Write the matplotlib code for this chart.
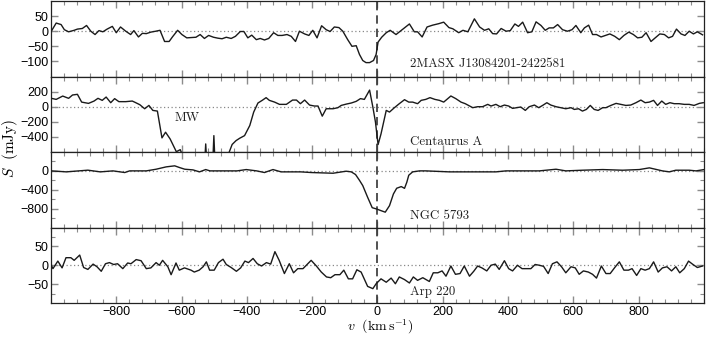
import numpy as np
import matplotlib
matplotlib.use("Agg")
import matplotlib.pyplot as plt
from matplotlib.ticker import FixedLocator, MultipleLocator

# ---------------- data ----------------
names = ["2MASX J13084201-2422581", "Centaurus A", "NGC 5793", "Arp 220"]

v_2masx = [-999, -984, -969, -959, -946, -929, -919, -904, -891, -878, -865, -853, -841, -828, -812,
           -800, -787, -771, -756, -746, -732, -720, -708, -694, -679, -666, -652, -638, -628, -612,
           -599, -584, -571, -556, -543, -530, -517, -502, -489, -476, -463, -448, -435, -420, -409,
           -397, -385, -371, -359, -346, -333, -318, -305, -292, -277, -264, -251, -239, -223, -210,
           -198, -185, -171, -157, -145, -132, -118, -106, -91, -78, -65, -55, -45, -35, -24, -12, -4,
           2, 13, 27, 39, 57, 78, 98, 113, 123, 137, 152, 169, 188, 203, 219, 231, 249, 262, 277, 297,
           313, 328, 341, 353, 365, 379, 394, 407, 421, 432, 445, 460, 473, 486, 501, 514, 526, 539,
           552, 567, 582, 596, 608, 623, 634, 647, 659, 671, 685, 698, 712, 727, 741, 755, 770, 784,
           797, 810, 823, 838, 851, 865, 879, 892, 904, 916, 930, 942, 955, 968, 980, 996]
s_2masx = [0, 27, 22, 5, -2, 3, 7, 9, 19, 0, -11, 2, -2, 7, 16,
           -5, 14, 0, -11, 2, -19, -7, -8, -3, 0, 3, -34, -34, -19, 3,
           -11, -22, -21, -20, -11, -24, -14, -20, -23, -25, -20, -24, -17, -1, -1,
           -22, -13, -28, -24, -29, -24, -5, -14, -14, -11, -17, -34, 0, -9, -14,
           3, -22, 18, 5, -1, 14, 12, 0, -28, -50, -48, -77, -97, -104, -104, -97, -77,
           -36, -20, -5, 3, -11, 7, 24, -2, -2, -19, 14, 20, 25, 30, 12, 8, -5, 3, -2, 41,
           14, 3, 8, -8, -9, 9, 0, 2, 24, 16, 30, -5, -2, 31, 19, 3, 11, 11,
           22, 5, 0, 5, 19, -5, 11, 20, -11, -11, -19, -14, -9, -17, -28, -14, -3, -11,
           -22, -20, -5, -34, -22, -9, -11, -22, -17, 7, -9, -14, 0, -9, -2, -12]

v_cena = [-999, -984, -964, -946, -934, -919, -906, -885, -868, -856, -843, -831, -817, -805, -792,
          -771, -751, -744, -728, -713, -700, -688, -674, -660, -649, -635, -616, -604, -590, -570,
          -540, -530, -526, -522, -505, -501, -497, -480, -462, -445, -433, -422, -407, -391, -379,
          -366, -353, -341, -331, -315, -300, -279, -260, -248, -236, -223, -208, -193, -182, -169,
          -157, -136, -121, -111, -95, -80, -65, -52, -40, -24, -14, -6, 2, 11, 27, 37, 52, 67, 83,
          96, 108, 123, 134, 148, 161, 176, 190, 203, 225, 240, 256, 269, 292, 307, 322, 338, 348,
          363, 376, 389, 402, 414, 426, 439, 453, 465, 481, 494, 506, 519, 531, 547, 562, 577, 593,
          603, 616, 628, 640, 652, 664, 676, 690, 700, 715, 731, 746, 761, 776, 792, 807, 820, 833,
          846, 858, 871, 883, 896, 909, 924, 940, 955, 970, 986, 998]
s_cena = [111, 97, 141, 111, 155, 164, 61, 44, 75, 111, 84, 128, 53, 107, 67,
          67, 75, 61, 27, -27, 17, -49, -58, -413, -338, -427, -596, -569, -720, -800,
          -800, -800, -493, -800, -800, -383, -800, -800, -690, -500, -449, -418, -383, -249, -71,
          49, 84, 120, 84, 61, 31, 31, 88, 88, 40, 88, 22, 9, 9, -125,
          -27, -27, -13, 17, 35, 49, 71, 107, 97, 220, -5, -205, -502, -360, -49, -71, -13, 40, 93,
          61, 61, 40, 84, 97, 120, 97, 84, 61, 142, 107, 61, 40, -13, 0, 0, 31, 9,
          31, 0, 22, 9, -22, -13, -4, -49, 0, 22, -13, 17, 53, 22, 0, -13, -27, -13,
          -36, -27, -58, -36, 17, -36, -49, -13, -13, 17, 44, 31, 17, 22, 53, 88, 53, 61,
          84, 17, 75, 31, 53, 40, 40, 31, 31, 17, 44, 53]

v_ngc = [-999, -953, -887, -849, -810, -774, -759, -708, -678, -647, -621, -606, -590, -565, -545,
         -526, -513, -470, -430, -402, -370, -346, -320, -295, -270, -235, -203, -167, -136, -96,
         -80, -67, -55, -45, -30, -16, -2, 11, 24, 37, 49, 59, 73, 83, 90, 96, 108, 129, 148,
         220, 271, 322, 363, 394, 445, 496, 547, 577, 628, 690, 751, 802, 833, 873, 894, 914,
         955, 976, 1001]
s_ngc = [0, -21, 15, -21, 0, -35, 0, 0, 35, 85, 107, 70, 35, 21, -21,
         28, 0, 0, 0, 28, 0, -35, 28, -21, -21, -21, -35, -43, -50, -7,
         -21, -78, -200, -311, -560, -780, -809, -843, -875, -737, -489, -368, -333, -370, -241,
         -92, -21, 0, 0, -21, -21, -21, -21, 0, 0, 0, 35, 0, 14, 28, 14, 28, 64, 0, -21, 14,
         14, 0, 28]

v_arp = [-999, -994, -979, -966, -954, -939, -929, -912, -900, -887, -871, -859, -846, -833, -821,
         -808, -796, -780, -765, -755, -739, -724, -708, -694, -678, -668, -658, -642, -632, -617,
         -607, -591, -571, -561, -546, -534, -524, -514, -500, -487, -473, -463, -448, -432, -419,
         -406, -395, -381, -368, -355, -340, -327, -314, -301, -285, -270, -257, -244, -228, -203,
         -187, -172, -156, -143, -130, -115, -103, -89, -76, -63, -50, -30, -14, -4, 11, 27, 42,
         55, 67, 83, 98, 110, 123, 139, 159, 171, 185, 198, 210, 225, 239, 253, 266, 282, 295,
         307, 320, 335, 348, 361, 373, 389, 402, 414, 429, 443, 457, 470, 483, 496, 509, 523,
         536, 550, 564, 577, 593, 606, 618, 631, 646, 659, 671, 686, 700, 713, 727, 741, 755,
         769, 780, 794, 807, 820, 833, 846, 860, 873, 887, 901, 914, 926, 940, 953, 965, 980, 996]
s_arp = [0, -9, 11, -7, 20, 20, 13, 27, -6, -11, 3, -4, -16, 4, 7,
         2, 4, -9, 6, 4, 15, 12, -9, -7, 7, 0, 13, -4, -25, 6,
         -13, -7, -13, -18, -13, -4, 9, -13, -13, 7, 16, 2, -6, -16, -7,
         11, 7, 18, 4, -2, 7, 3, 36, 13, -22, 4, -20, -9, -9, 13,
         -2, -18, -31, -33, -25, -25, -13, -36, -36, -12, -18, -56, -62, -49, -36, -45, -34,
         -49, -31, -38, -47, -31, -40, -33, -43, -20, -20, -15, -29, -2, -24, -22, -2, -29, -16,
         -2, -7, -15, 0, 3, -11, 12, -9, -15, 0, -9, -9, -9, 2, 0, -3, -22,
         4, 9, -4, -20, -4, -7, -24, -15, -18, -24, -34, -2, -22, -22, -6, 9, -13,
         -13, -9, -27, -9, -13, -9, 9, -18, -7, -4, -15, -4, -20, -9, 11, 3, -6, -2]

velocities = [v_2masx, v_cena, v_ngc, v_arp]
fluxes = [s_2masx, s_cena, s_ngc, s_arp]

ylims = [(-150, 100), (-600, 400), (-1200, 400), (-100, 100)]
ymajor = [[-100, -50, 0, 50], [-400, -200, 0, 200], [-800, -400, 0], [-50, 0, 50]]
yminor = [[], [], [-1000, -600, -200, 200], [-75, 75]]
label_pos = [(100, -110), (100, -467), (100, -963), (100, -70)]
xticks = [-800, -600, -400, -200, 0, 200, 400, 600, 800]

# ---------------- plotting ----------------
plt.rcParams['font.family'] = ['Liberation Sans', 'DejaVu Sans']
plt.rcParams['mathtext.fontset'] = 'cm'

fig, axes = plt.subplots(4, 1, sharex=True, figsize=(7.06, 3.37), dpi=100)
fig.subplots_adjust(left=0.0722, right=0.997, top=0.997, bottom=0.1009, hspace=0)

tick_col = '#8c8c8c'
for i, ax in enumerate(axes):
    ax.plot(velocities[i], fluxes[i], color='#1a1a1a', lw=1.0, zorder=3)
    ax.axhline(0, color='#888888', lw=0.9, ls=(0, (1, 2)), zorder=1)
    ax.axvline(0, color='#333333', lw=1.2, ls=(0, (5, 3)), zorder=2)
    ax.set_xlim(-1000, 1000)
    ax.set_ylim(*ylims[i])
    ax.yaxis.set_major_locator(FixedLocator(ymajor[i]))
    ax.yaxis.set_minor_locator(FixedLocator(yminor[i]))
    ax.xaxis.set_major_locator(FixedLocator(xticks))
    ax.xaxis.set_minor_locator(MultipleLocator(40))
    ax.tick_params(which='both', direction='in', top=True, right=True,
                   color=tick_col, labelsize=9)
    ax.tick_params(axis='y', which='both', pad=2)
    ax.tick_params(axis='x', which='both', pad=2.5)
    ax.tick_params(which='major', length=5, width=1.0)
    ax.tick_params(which='minor', length=3, width=0.8)
    for sp in ax.spines.values():
        sp.set_linewidth(0.9)
        sp.set_color('#222222')
    ax.text(label_pos[i][0], label_pos[i][1], names[i], fontfamily='cmr10',
            fontsize=9.3, ha='left', va='center', color='#222222')

axes[1].text(-622, -147, "MW", fontfamily='cmr10', fontsize=9.3, ha='left', va='center',
             color='#222222')

fig.text(0.538, 0.031, r'$v\ \ \mathrm{(km\,s^{-1})}$', fontsize=10, ha='center', va='center')
fig.text(0.0145, 0.56, r'$S\ \ \mathrm{(mJy)}$', rotation=90, fontsize=11,
         ha='center', va='center')

fig.savefig('out.png', dpi=100)
